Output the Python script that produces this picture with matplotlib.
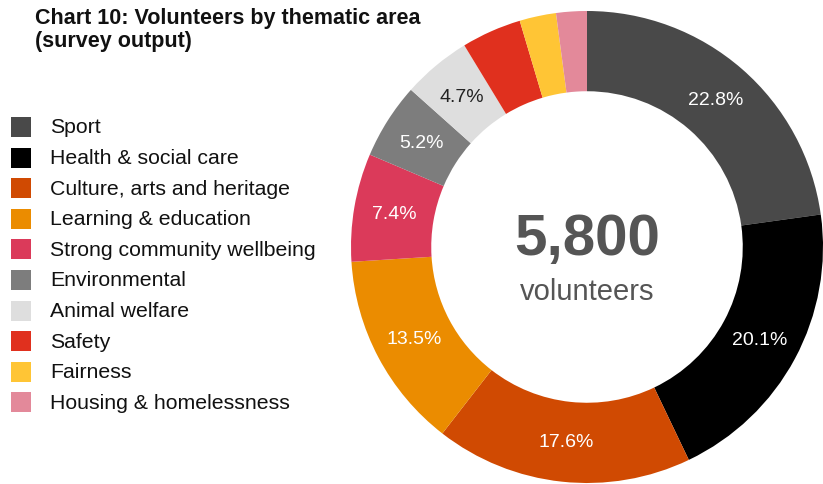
import matplotlib
matplotlib.use("Agg")
import matplotlib.pyplot as plt
from matplotlib.patches import Rectangle
import numpy as np

plt.rcParams['font.family'] = ['Liberation Sans', 'DejaVu Sans']

categories = ["Sport", "Health & social care", "Culture, arts and heritage",
              "Learning & education", "Strong community wellbeing", "Environmental",
              "Animal welfare", "Safety", "Fairness", "Housing & homelessness"]
shares = [22.8, 20.1, 17.6, 13.5, 7.4, 5.2, 4.7, 4.1, 2.5, 2.1]
colors = ["#494949", "#000000", "#d04a02", "#eb8c00", "#db3a5a", "#7d7d7d",
          "#dedede", "#e0301e", "#ffc535", "#e3899a"]
label_colors = ["white", "white", "white", "white", "white", "white",
                "#222222", None, None, None]
show_label = [True, True, True, True, True, True, True, False, False, False]
total_volunteers = "5,800"

W, H = 823, 485
fig = plt.figure(figsize=(W / 100, H / 100), dpi=100)

# Donut: centre (587, 248) px from top-left, outer radius 236 px
cx, cy, R = 587, 248, 236
ax = fig.add_axes([(cx - R) / W, (H - cy - R) / H, 2 * R / W, 2 * R / H])
ring = 0.34
wedges, _ = ax.pie(shares, colors=colors, startangle=90, counterclock=False,
                   radius=1, wedgeprops=dict(width=ring, edgecolor="none", linewidth=0))
ax.set_xlim(-1, 1)
ax.set_ylim(-1, 1)
ax.set_aspect("equal")
ax.axis("off")

mid_r = 1 - ring / 2
for w, v, c, show in zip(wedges, shares, label_colors, show_label):
    if not show:
        continue
    ang = np.deg2rad((w.theta1 + w.theta2) / 2)
    ax.text(mid_r * np.cos(ang), mid_r * np.sin(ang), f"{v:.1f}%",
            ha="center", va="center", color=c, fontsize=14)

ax.text(0, 0.035, total_volunteers, ha="center", va="center", fontsize=42,
        fontweight="bold", color="#555555")
ax.text(0, -0.185, "volunteers", ha="center", va="center", fontsize=21,
        color="#555555")

# Title
fig.text(35 / W, 1 - 8 / H, "Chart 10: Volunteers by thematic area\n(survey output)",
         ha="left", va="top", fontsize=15.5, fontweight="bold", color="#111111",
         linespacing=1.1)

# Legend
y0, step = 128, 30.6
for i, (name, col) in enumerate(zip(categories, colors)):
    yc = y0 + i * step
    fig.patches.append(Rectangle((11 / W, 1 - (yc + 10) / H), 20 / W, 20 / H,
                                 transform=fig.transFigure, facecolor=col,
                                 edgecolor="none"))
    fig.text(50 / W, 1 - yc / H, name, ha="left", va="center", fontsize=15.3,
             color="#111111")

fig.savefig("out.png", dpi=100)
